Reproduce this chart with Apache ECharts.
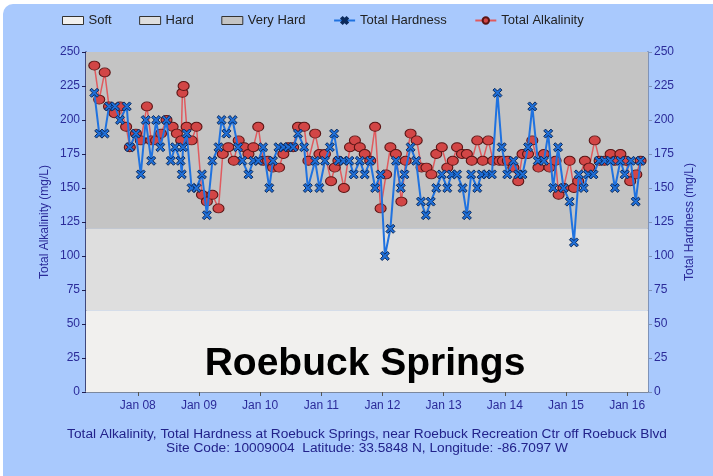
<!DOCTYPE html>
<html>
<head>
<meta charset="utf-8">
<script src="https://cdn.jsdelivr.net/npm/echarts@6/dist/echarts.min.js"></script>
<style>
  html, body { margin: 0; padding: 0; background: #ffffff; }
  #main { width: 713px; height: 476px; }
</style>
</head>
<body>
<div id="main"></div>
<script>
// tick labels on the time axis (January of each year)
var yearTicks = [2008, 2009, 2010, 2011, 2012, 2013, 2014, 2015, 2016];

// Total Hardness (mg/L), sample dates as decimal years
var hardnessDates = [
  2007.29, 2007.37, 2007.46, 2007.53, 2007.63, 2007.71, 2007.82, 2007.87, 2007.97, 2008.05,
  2008.13, 2008.22, 2008.30, 2008.37, 2008.47, 2008.54, 2008.61, 2008.70, 2008.72, 2008.74,
  2008.80, 2008.88, 2008.96, 2009.05, 2009.13, 2009.22, 2009.32, 2009.37, 2009.45, 2009.55,
  2009.64, 2009.71, 2009.81, 2009.89, 2009.97, 2010.05, 2010.15, 2010.21, 2010.30, 2010.38,
  2010.46, 2010.54, 2010.62, 2010.72, 2010.78, 2010.90, 2010.97, 2011.06, 2011.14, 2011.21,
  2011.28, 2011.36, 2011.46, 2011.53, 2011.63, 2011.71, 2011.80, 2011.88, 2011.97, 2012.04,
  2012.13, 2012.22, 2012.30, 2012.36, 2012.46, 2012.55, 2012.63, 2012.71, 2012.79, 2012.88,
  2012.97, 2013.06, 2013.13, 2013.22, 2013.31, 2013.38, 2013.45, 2013.55, 2013.62, 2013.70,
  2013.79, 2013.88, 2013.95, 2014.04, 2014.14, 2014.22, 2014.29, 2014.38, 2014.45, 2014.54,
  2014.64, 2014.71, 2014.79, 2014.87, 2014.96, 2015.06, 2015.13, 2015.21, 2015.29, 2015.36,
  2015.45, 2015.54, 2015.63, 2015.73, 2015.80, 2015.89, 2015.96, 2016.06, 2016.14, 2016.22
];
var hardnessValues = [
  220, 190, 190, 210, 210, 200, 210, 180, 190, 160,
  200, 170, 200, 180, 200, 170, 180, 170, 160, 180,
  190, 150, 150, 160, 130, 170, 180, 200, 190, 200,
  180, 170, 160, 170, 170, 180, 150, 170, 180, 180,
  180, 180, 190, 180, 150, 170, 150, 170, 180, 190,
  170, 170, 170, 160, 170, 160, 170, 150, 160, 100,
  120, 170, 150, 160, 180, 170, 140, 130, 140, 150,
  160, 150, 160, 160, 150, 130, 160, 150, 160, 160,
  160, 220, 180, 160, 170, 160, 160, 180, 210, 170,
  170, 190, 150, 180, 150, 140, 110, 160, 150, 160,
  160, 170, 170, 170, 150, 170, 160, 170, 140, 170
];

// Total Alkalinity (mg/L)
var alkalinityDates = [
  2007.29, 2007.37, 2007.46, 2007.53, 2007.62, 2007.71, 2007.81, 2007.87, 2007.97, 2008.05,
  2008.15, 2008.22, 2008.30, 2008.38, 2008.47, 2008.57, 2008.64, 2008.71, 2008.73, 2008.75,
  2008.80, 2008.88, 2008.96, 2009.05, 2009.13, 2009.22, 2009.32, 2009.39, 2009.48, 2009.57,
  2009.65, 2009.74, 2009.81, 2009.89, 2009.97, 2010.05, 2010.13, 2010.21, 2010.31, 2010.38,
  2010.46, 2010.54, 2010.62, 2010.72, 2010.79, 2010.90, 2010.97, 2011.06, 2011.16, 2011.22,
  2011.28, 2011.37, 2011.47, 2011.55, 2011.63, 2011.71, 2011.80, 2011.88, 2011.97, 2012.06,
  2012.13, 2012.22, 2012.31, 2012.38, 2012.46, 2012.56, 2012.64, 2012.72, 2012.80, 2012.88,
  2012.97, 2013.06, 2013.15, 2013.22, 2013.30, 2013.38, 2013.46, 2013.55, 2013.64, 2013.73,
  2013.81, 2013.91, 2013.97, 2014.05, 2014.14, 2014.22, 2014.29, 2014.38, 2014.45, 2014.55,
  2014.64, 2014.73, 2014.83, 2014.88, 2014.96, 2015.06, 2015.13, 2015.20, 2015.31, 2015.38,
  2015.47, 2015.55, 2015.63, 2015.73, 2015.80, 2015.89, 2015.98, 2016.05, 2016.15, 2016.22
];
var alkalinityValues = [
  240, 215, 235, 210, 205, 210, 195, 180, 190, 185,
  210, 185, 185, 190, 200, 195, 190, 185, 220, 225,
  195, 185, 195, 145, 140, 145, 135, 175, 180, 170,
  185, 180, 175, 180, 195, 170, 170, 165, 165, 175,
  180, 180, 195, 195, 170, 190, 175, 175, 155, 165,
  170, 150, 180, 185, 180, 175, 170, 195, 135, 160,
  180, 175, 140, 170, 190, 185, 165, 165, 160, 175,
  180, 165, 170, 180, 175, 175, 170, 185, 170, 185,
  170, 170, 170, 170, 165, 155, 175, 175, 185, 165,
  175, 165, 170, 145, 150, 170, 150, 155, 170, 165,
  185, 170, 170, 175, 170, 175, 170, 155, 160, 170
];

// water hardness classes (mg/L)
var bandNames = ['Soft', 'Hard', 'Very Hard'];
var bandLimits = [0, 60, 120, 250];
var bandColors = ['#f1f0ee', '#dedede', '#c4c4c4'];

var textBlue = '#2b2b99';

function pairs(xs, ys) {
  var out = [];
  for (var i = 0; i < xs.length; i++) out.push([xs[i], ys[i]]);
  return out;
}

var crossPath = 'path://M0,2 L2,0 L5,3 L8,0 L10,2 L7,5 L10,8 L8,10 L5,7 L2,10 L0,8 L3,5 Z';

var bandSeries = bandNames.map(function (name, i) {
  return {
    name: name,
    type: 'bar',
    data: [],
    z: -1,
    silent: true,
    itemStyle: { color: bandColors[i], borderColor: '#333', borderWidth: 1 },
    markArea: {
      silent: true,
      itemStyle: { color: bandColors[i], opacity: 1 },
      data: [[{ yAxis: bandLimits[i] }, { yAxis: bandLimits[i + 1] }]]
    }
  };
});

var yAxisCommon = {
  type: 'value',
  min: 0,
  max: 250,
  interval: 25,
  nameLocation: 'middle',
  nameMoveOverlap: false,
  nameTextStyle: { color: textBlue, fontSize: 12, fontFamily: 'Liberation Sans' },
  axisLabel: { color: textBlue, fontSize: 12, fontFamily: 'Liberation Sans', margin: 6 },
  axisTick: { show: true, length: 4 },
  splitLine: { show: true, lineStyle: { color: 'rgba(0,0,0,0.08)' } }
};

var legendItems = bandNames.map(function (n, i) {
  return { name: n, icon: 'rect', itemStyle: { color: bandColors[i], borderColor: '#333', borderWidth: 1 } };
}).concat(['Total Hardness', 'Total Alkalinity']);

var option = {
  animation: false,
  graphic: [{
    type: 'rect',
    z: -100,
    shape: { x: 3, y: 4, width: 760, height: 520, r: 10 },
    style: { fill: '#a9c9fd' }
  }],
  title: [{
    text: 'Roebuck Springs',
    left: 360,
    top: 340,
    textAlign: 'center',
    textStyle: { fontSize: 39, fontWeight: 'bold', color: '#000', fontFamily: 'Liberation Sans' }
  }, {
    text: 'Total Alkalinity, Total Hardness at Roebuck Springs, near Roebuck Recreation Ctr off Roebuck Blvd\nSite Code: 10009004  Latitude: 33.5848 N, Longitude: -86.7097 W',
    left: 362,
    top: 422,
    textAlign: 'center',
    textStyle: { fontSize: 13.7, fontWeight: 'normal', color: '#22228a', lineHeight: 14, fontFamily: 'Liberation Sans' }
  }],
  legend: {
    left: 57,
    top: 9,
    itemWidth: 21,
    itemHeight: 8,
    itemGap: 27.5,
    textStyle: { color: '#222', fontSize: 13, fontFamily: 'Liberation Sans' },
    data: legendItems
  },
  grid: { left: 86, right: 65, top: 52, bottom: 84 },
  xAxis: [{
    type: 'value',
    min: 2007.154,
    max: 2016.341,
    axisLine: { lineStyle: { color: '#666', width: 2 } },
    axisTick: { customValues: yearTicks, length: 4, lineStyle: { color: '#555' } },
    axisLabel: {
      customValues: yearTicks,
      color: textBlue,
      fontSize: 12,
      fontFamily: 'Liberation Sans',
      margin: 8,
      formatter: function (v) { return 'Jan ' + String(Math.round(v)).slice(2); }
    },
    splitLine: { show: false }
  }, {
    // top border of the plot area
    type: 'value',
    position: 'top',
    min: 2007.154,
    max: 2016.341,
    axisLine: { show: true, lineStyle: { color: '#7b889e', width: 2 } },
    axisTick: { show: false },
    axisLabel: { show: false },
    splitLine: { show: false }
  }],
  yAxis: [
    Object.assign({}, yAxisCommon, {
      name: 'Total Alkalinity (mg/L)',
      nameGap: 35,
      position: 'left',
      axisLine: { show: true, lineStyle: { color: '#1c1c50', width: 1.5 } }
    }),
    Object.assign({}, yAxisCommon, {
      name: 'Total Hardness (mg/L)',
      nameGap: 36,
      position: 'right',
      splitLine: { show: false },
      axisLine: { show: true, lineStyle: { color: '#7f93b8', width: 2 } }
    })
  ],
  series: bandSeries.concat([{
    name: 'Total Alkalinity',
    type: 'line',
    yAxisIndex: 0,
    z: 3,
    data: pairs(alkalinityDates, alkalinityValues),
    symbol: 'circle',
    symbolSize: [11, 9],
    showAllSymbol: true,
    lineStyle: { color: '#e05a5e', width: 1.5 },
    itemStyle: { color: '#d24646', borderColor: '#5a1515', borderWidth: 1 }
  }, {
    name: 'Total Hardness',
    type: 'line',
    yAxisIndex: 1,
    z: 4,
    data: pairs(hardnessDates, hardnessValues),
    symbol: crossPath,
    symbolSize: 9,
    showAllSymbol: true,
    lineStyle: { color: '#1f72e0', width: 2 },
    itemStyle: { color: '#1f6fd8', borderColor: '#0b2a5c', borderWidth: 1 }
  }])
};

var chart = echarts.init(document.getElementById('main'));
chart.setOption(option);
</script>
</body>
</html>
